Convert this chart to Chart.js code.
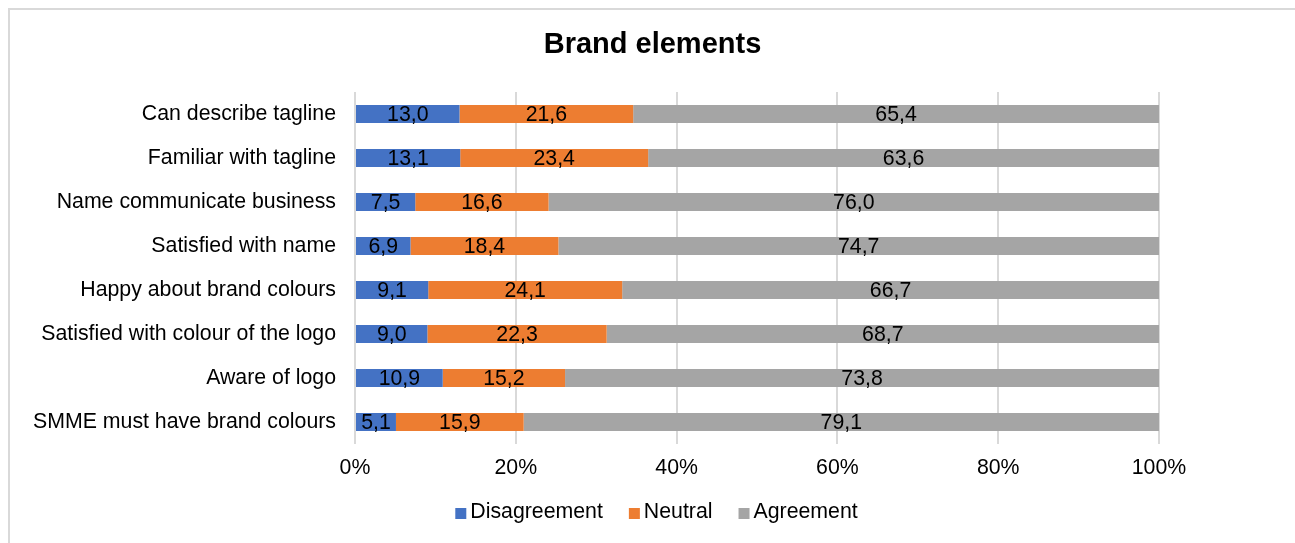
<!DOCTYPE html>
<html>
<head>
<meta charset="utf-8">
<script src="https://cdn.jsdelivr.net/npm/chart.js@4"></script>
<style>
  html, body { margin: 0; padding: 0; background: #ffffff; }
  #wrap { position: relative; width: 1295px; height: 543px; }
</style>
</head>
<body>
<div id="wrap"><canvas id="c" width="1295" height="543"></canvas></div>
<script>
const categories = [
  "Can describe tagline",
  "Familiar with tagline",
  "Name communicate business",
  "Satisfied with name",
  "Happy about brand colours",
  "Satisfied with colour of the logo",
  "Aware of logo",
  "SMME must have brand colours"
];
const disagreement = [13.0, 13.1, 7.5, 6.9, 9.1, 9.0, 10.9, 5.1];
const neutral      = [21.6, 23.4, 16.6, 18.4, 24.1, 22.3, 15.2, 15.9];
const agreement    = [65.4, 63.6, 76.0, 74.7, 66.7, 68.7, 73.8, 79.1];
const seriesNames  = ["Disagreement", "Neutral", "Agreement"];
const tickLabels   = ["0%", "20%", "40%", "60%", "80%", "100%"];

const FONT = "'Liberation Sans', Arial, sans-serif";
const FS = 21.3;
const raw = [disagreement, neutral, agreement];
// 100% stacked: normalise each row to its total (as the spreadsheet does)
const totals = categories.map((_, i) => raw.reduce((s, a) => s + a[i], 0));
const share = raw.map(a => a.map((v, i) => v / totals[i] * 100));
const colors = ["#4472C4", "#ED7D31", "#A5A5A5"];

const borderPlugin = {
  id: 'outerBorder',
  beforeDraw(chart) {
    const ctx = chart.ctx;
    ctx.save();
    ctx.strokeStyle = '#d9d9d9';
    ctx.lineWidth = 2;
    ctx.strokeRect(9, 9, 2000, 2000);
    ctx.restore();
  }
};

const labelPlugin = {
  id: 'segLabels',
  afterDatasetsDraw(chart) {
    const ctx = chart.ctx;
    ctx.save();
    ctx.font = FS + "px " + FONT;
    ctx.fillStyle = '#000000';
    ctx.textAlign = 'center';
    ctx.textBaseline = 'middle';
    chart.data.datasets.forEach((ds, di) => {
      const meta = chart.getDatasetMeta(di);
      meta.data.forEach((bar, i) => {
        const v = raw[di][i];
        const cx = (bar.x + bar.base) / 2;
        ctx.fillText(v.toFixed(1).replace('.', ','), cx, bar.y + 1);
      });
    });
    ctx.restore();
  }
};

// Legend drawn in the spreadsheet's spacing (small gap box->text, wider gap between items)
const legendPlugin = {
  id: 'xlLegend',
  afterDraw(chart) {
    const ctx = chart.ctx;
    ctx.save();
    ctx.font = FS + "px " + FONT;
    ctx.textBaseline = 'middle';
    ctx.textAlign = 'left';
    const box = 11, gapText = 4, gapItem = 26;
    const items = chart.data.datasets.map(ds => ({
      text: ds.label, color: ds.backgroundColor, w: ctx.measureText(ds.label).width
    }));
    const total = items.reduce((s, it) => s + box + gapText + it.w, 0) + gapItem * (items.length - 1);
    const cxMid = (chart.width + 18) / 2;
    let x = cxMid - total / 2;
    const y = 512.5;
    items.forEach(it => {
      ctx.fillStyle = it.color;
      ctx.fillRect(x, y - box / 2 + 1, box, box);
      ctx.fillStyle = '#000000';
      ctx.fillText(it.text, x + box + gapText, y);
      x += box + gapText + it.w + gapItem;
    });
    ctx.restore();
  }
};

new Chart(document.getElementById('c'), {
  type: 'bar',
  data: {
    labels: categories,
    datasets: seriesNames.map((name, k) => ({
      label: name,
      data: share[k],
      backgroundColor: colors[k],
      borderWidth: 0,
      categoryPercentage: 1.0,
      barPercentage: 0.41
    }))
  },
  options: {
    indexAxis: 'y',
    responsive: false,
    animation: false,
    devicePixelRatio: 1,
    layout: { padding: { left: 10, right: 0, top: 0, bottom: 0 } },
    scales: {
      x: {
        stacked: true,
        min: 0, max: 100,
        position: 'bottom',
        afterBuildTicks(scale) {
          scale.ticks = tickLabels.map((_, i) => ({ value: i * 20 }));
        },
        ticks: {
          callback: (v, i) => tickLabels[i],
          color: '#000000',
          font: { family: FONT, size: FS },
          padding: 11,
          maxRotation: 0
        },
        grid: { color: '#d9d9d9', lineWidth: 2, drawTicks: false },
        border: { display: false },
        afterFit(scale) { scale.height = 99; }
      },
      y: {
        stacked: true,
        position: 'left',
        ticks: {
          color: '#000000',
          font: { family: FONT, size: FS },
          padding: 19,
          autoSkip: false
        },
        grid: { display: false, drawTicks: false },
        border: { display: false },
        afterFit(scale) { scale.width = 345; }
      },
      yRight: {
        type: 'category',
        labels: categories,
        position: 'right',
        ticks: { display: false },
        grid: { display: false, drawTicks: false },
        border: { display: false },
        afterFit(scale) { scale.width = 1295 - 1159; }
      }
    },
    plugins: {
      title: {
        display: true,
        text: 'Brand elements',
        color: '#000000',
        font: { family: FONT, size: 29, weight: 'bold', lineHeight: 1.2 },
        padding: { top: 27.5, bottom: 29.7 }
      },
      legend: { display: false },
      tooltip: { enabled: false }
    }
  },
  plugins: [borderPlugin, labelPlugin, legendPlugin]
});
</script>
</body>
</html>
